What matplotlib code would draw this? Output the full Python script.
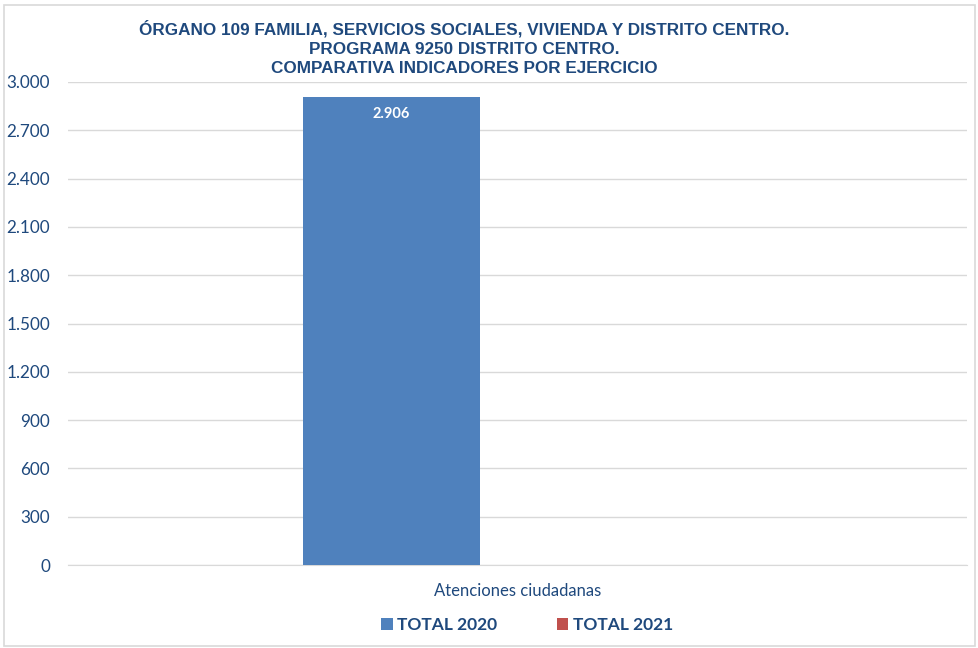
import matplotlib
matplotlib.use("Agg")
import matplotlib.pyplot as plt
from matplotlib.patches import Rectangle
from matplotlib.ticker import FuncFormatter
import numpy as np

categories = ["Atenciones ciudadanas"]
series_names = ["TOTAL 2020", "TOTAL 2021"]
values_2020 = [2906]
values_2021 = [0]
yticks = [0, 300, 600, 900, 1200, 1500, 1800, 2100, 2400, 2700, 3000]

title = ("ÓRGANO 109 FAMILIA, SERVICIOS SOCIALES, VIVIENDA Y DISTRITO CENTRO.\n"
         "PROGRAMA 9250 DISTRITO CENTRO.\n"
         "COMPARATIVA INDICADORES POR EJERCICIO")

blue = "#4F81BD"
red = "#C0504D"
txt = "#1F497D"

fig = plt.figure(figsize=(9.79, 6.48), dpi=100)
fig.patch.set_facecolor("white")
fig.add_artist(Rectangle((0.004, 0.003), 0.992, 0.99, transform=fig.transFigure,
                         fill=False, edgecolor="#D9D9D9", linewidth=1.2))

ax = fig.add_axes([68/979, 1-565/648, (967-68)/979, (565-82)/648])
x = np.arange(len(categories))
w = 0.197
off = 0.14
b1 = ax.bar(x - off, values_2020, w, color=blue, label=series_names[0], zorder=3)
b2 = ax.bar(x + off, values_2021, w, color=red, label=series_names[1], zorder=3)

for rect, v in zip(b1, values_2020):
    ax.text(rect.get_x() + rect.get_width()/2, v - 62, f"{v:,}".replace(",", "."),
            ha="center", va="top", color="white", fontsize=10.5, fontweight="bold",
            family="Lato")

ax.set_xlim(-0.5, 0.5)
ax.set_ylim(0, 3000)
ax.set_yticks(yticks)
ax.yaxis.set_major_formatter(FuncFormatter(lambda v, p: f"{int(v):,}".replace(",", ".")))
ax.grid(axis="y", color="#D9D9D9", linewidth=1, zorder=0)
ax.set_xticks(x)
ax.set_xticklabels(categories)
for s in ["top", "right", "left"]:
    ax.spines[s].set_visible(False)
ax.spines["bottom"].set_color("#D9D9D9")
ax.tick_params(axis="both", length=0)
ax.tick_params(axis="y", pad=13, labelsize=12.3, labelcolor=txt)
ax.tick_params(axis="x", pad=13, labelsize=12, labelcolor=txt)
for lab in ax.get_yticklabels() + ax.get_xticklabels():
    lab.set_family("Lato")

fig.text(464/979, 1-48/648, title, ha="center", va="center", color=txt,
         fontsize=12.3, fontweight="bold", family="Liberation Sans", linespacing=1.38)

leg = fig.legend(loc="center", bbox_to_anchor=(527/979, 1-625/648), ncol=2, frameon=False,
                 prop={"family": "Lato", "weight": "bold", "size": 12.5},
                 handlelength=0.65, handleheight=0.65, handletextpad=0.25, columnspacing=3.45)
for t in leg.get_texts():
    t.set_color(txt)

fig.savefig("out.png", dpi=100)
